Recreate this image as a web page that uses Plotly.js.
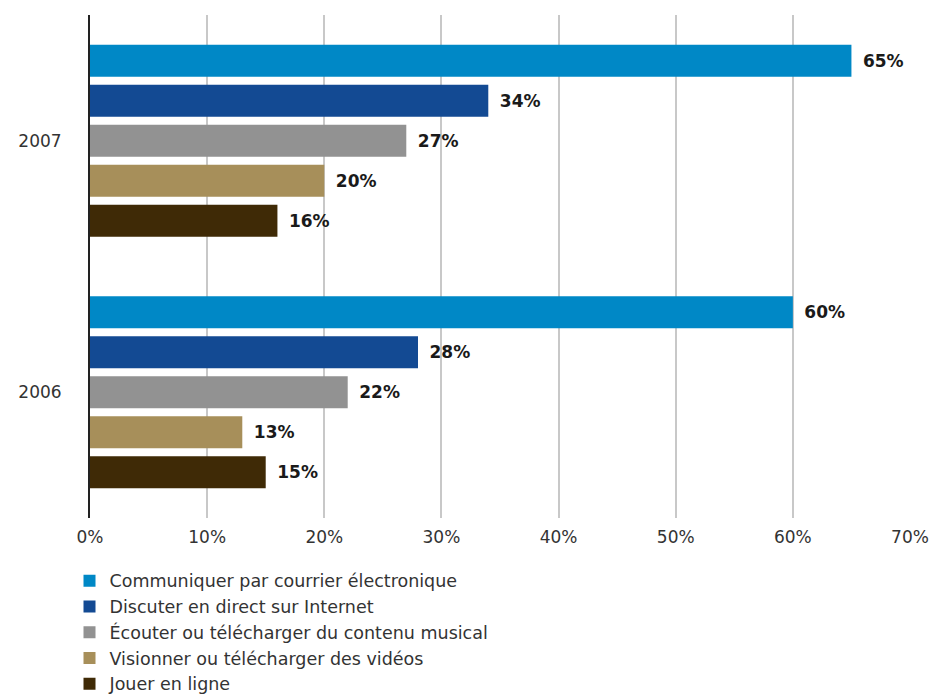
<!DOCTYPE html>
<html>
<head>
<meta charset="utf-8">
<script src="https://cdn.plot.ly/plotly-3.0.1.min.js"></script>
<style>html,body{margin:0;padding:0;background:#fff;}#chart{width:932px;height:694px;}</style>
</head>
<body>
<div id="chart"></div>
<script>
const years = ['2007', '2006'];
const seriesNames = [
  'Communiquer par courrier électronique',
  'Discuter en direct sur Internet',
  'Écouter ou télécharger du contenu musical',
  'Visionner ou télécharger des vidéos',
  'Jouer en ligne'
];
const email = [65, 60];
const chat = [34, 28];
const music = [27, 22];
const video = [20, 13];
const games = [16, 15];
const colors = ['#0088c6', '#134a93', '#929292', '#a78f5a', '#3f2a06'];
const values = [email, chat, music, video, games];

const FONT = '"DejaVu Sans", "Noto Sans", sans-serif';

const traces = values.map((v, i) => ({
  type: 'bar',
  orientation: 'h',
  name: seriesNames[i],
  y: years,
  x: v,
  marker: {color: colors[i], line: {width: 0}},
  text: v.map(d => '\u2002' + d + '%'),
  textposition: 'outside',
  textfont: {family: FONT, size: 17, color: '#1a1a1a', weight: 'bold'},
  cliponaxis: false,
  hoverinfo: 'none'
}));

const layout = {
  width: 932,
  height: 694,
  margin: {l: 90, r: 22, t: 15, b: 176, autoexpand: false},
  barmode: 'group',
  bargap: 0.205,
  bargroupgap: 0.2,
  paper_bgcolor: '#fff',
  plot_bgcolor: '#fff',
  font: {family: FONT, size: 17, color: '#333'},
  showlegend: true,
  legend: {
    orientation: 'v',
    x: -0.025,
    xanchor: 'left',
    y: -0.089,
    yanchor: 'top',
    font: {family: FONT, size: 17.5, color: '#333'},
    traceorder: 'normal',
    tracegroupgap: 0,
    itemwidth: 30
  },
  xaxis: {
    range: [0, 70],
    dtick: 10,
    ticksuffix: '%',
    showgrid: true,
    gridcolor: '#c8c8c8',
    gridwidth: 2,
    zeroline: false,
    showline: false,
    ticks: '',
    ticklabelstandoff: 7,
    tickfont: {family: FONT, size: 17, color: '#333'}
  },
  yaxis: {
    type: 'category',
    autorange: 'reversed',
    showline: true,
    linecolor: '#222',
    linewidth: 2,
    showgrid: false,
    zeroline: false,
    ticks: '',
    ticklabelstandoff: 23,
    tickfont: {family: FONT, size: 17, color: '#333'}
  }
};

Plotly.newPlot('chart', traces, layout, {staticPlot: true, displayModeBar: false});
</script>
</body>
</html>
